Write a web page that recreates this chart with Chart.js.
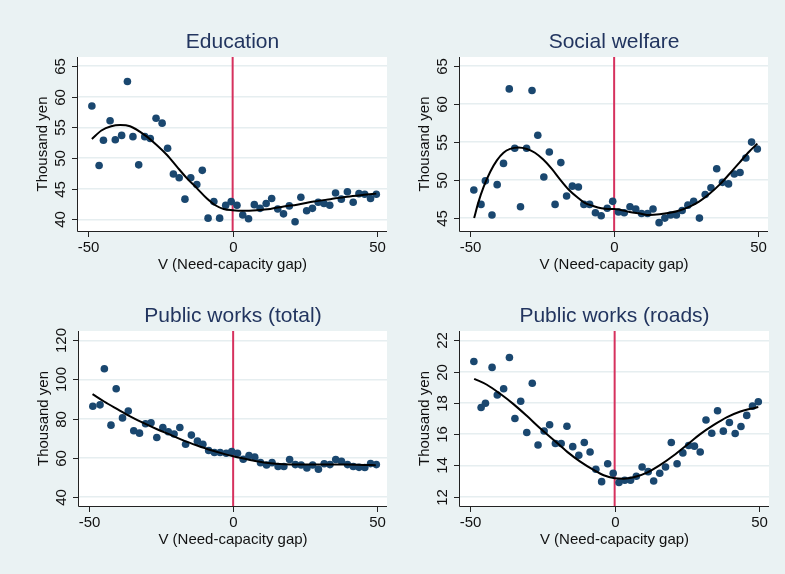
<!DOCTYPE html>
<html>
<head>
<meta charset="utf-8">
<script src="https://cdn.jsdelivr.net/npm/chart.js@4/dist/chart.umd.min.js"></script>
<style>
  html, body { margin: 0; padding: 0; background: #eaf2f3; }
  #wrap { position: relative; width: 785px; height: 574px; background: #eaf2f3; overflow: hidden; }
  #wrap canvas { position: absolute; }
</style>
</head>
<body>
<div id="wrap">
  <canvas id="edu"></canvas>
  <canvas id="welfare"></canvas>
  <canvas id="worksTotal"></canvas>
  <canvas id="worksRoads"></canvas>
</div>
<script>
// Bin means of the running variable (shared by all four outcomes)
const binX = [
  -48.7, -46.2, -44.7, -42.4, -40.6, -38.4, -36.4, -34.5, -32.5, -30.4,
  -28.5, -26.5, -24.4, -22.5, -20.5, -18.5, -16.5, -14.5, -12.4, -10.5,
  -8.5, -6.5, -4.5, -2.4, -0.5, 1.5, 3.5, 5.5, 7.5, 9.5,
  11.6, 13.5, 15.6, 17.6, 19.6, 21.6, 23.6, 25.6, 27.6, 29.6,
  31.6, 33.6, 35.6, 37.6, 39.7, 41.7, 43.7, 45.7, 47.7, 49.7
];

// Education spending per capita (thousand yen), bin means
const eduY = [
  58.5, 48.8, 52.9, 56.1, 53.0, 53.7, 62.5, 53.5, 48.9, 53.5,
  53.2, 56.5, 55.7, 51.6, 47.4, 46.8, 43.3, 46.8, 45.7, 48.0,
  40.2, 42.9, 40.2, 42.3, 42.9, 42.3, 40.7, 40.1, 42.4, 41.8,
  42.6, 43.4, 41.7, 40.9, 42.2, 39.6, 43.6, 41.4, 41.8, 42.8,
  42.6, 42.3, 44.3, 43.3, 44.5, 42.8, 44.2, 44.1, 43.4, 44.1
];
const eduFitX = [-48.7, -45.4, -42.0, -38.9, -35.5, -30.4, -26.2, -22.7, -19.3, -15.8, -12.4, -8.9, -6.0, -3.1, 0, 3.8, 8.4, 13.0, 17.7, 22.3, 28.1, 33.8, 39.6, 45.4, 49.7];
const eduFitY = [53.1, 54.5, 55.2, 55.4, 55.2, 53.75, 52.1, 50.5, 48.6, 46.7, 45.1, 43.4, 42.3, 41.7, 41.5, 41.4, 41.5, 41.7, 42.1, 42.4, 42.9, 43.3, 43.7, 44.0, 44.2];

// Social welfare spending per capita (thousand yen)
const welfareY = [
  48.7, 46.8, 49.9, 45.4, 49.4, 52.2, 62.0, 54.2, 46.5, 54.2,
  61.8, 55.9, 50.4, 53.7, 46.8, 52.3, 47.9, 49.2, 49.1, 46.8,
  46.8, 45.7, 45.3, 46.3, 47.2, 45.8, 45.7, 46.5, 46.2, 45.6,
  45.6, 46.2, 44.4, 45.0, 45.4, 45.4, 46.0, 46.7, 47.2, 45.0,
  48.1, 49.0, 51.5, 49.7, 49.5, 50.8, 51.0, 52.9, 55.0, 54.1
];
const welfareFitX = [-48.6, -47.1, -45.3, -43.0, -40.7, -38.4, -36.1, -33.2, -30.3, -27.5, -24.6, -21.7, -18.8, -15.9, -13.0, -10.2, -7.3, -4.4, -2.1, 0, 2.0, 5.4, 8.9, 12.3, 15.8, 19.3, 22.7, 26.2, 29.6, 33.1, 36.6, 40.0, 43.5, 47.0, 49.7];
const welfareFitY = [45.0, 47.1, 49.1, 51.1, 52.6, 53.6, 54.1, 54.3, 54.1, 53.6, 52.7, 51.5, 50.1, 48.8, 47.8, 47.0, 46.6, 46.3, 46.2, 46.2, 46.1, 45.8, 45.6, 45.4, 45.5, 45.7, 46.0, 46.5, 47.2, 48.2, 49.4, 50.8, 52.3, 53.8, 54.8];

// Public works, total (thousand yen)
const totalY = [
  86.3, 87.0, 105.5, 76.6, 95.2, 80.3, 83.8, 73.7, 72.5, 77.3,
  77.8, 70.3, 75.4, 73.2, 72.1, 75.4, 66.8, 71.5, 68.4, 66.8,
  63.6, 62.6, 62.6, 62.2, 63.1, 62.2, 59.1, 61.0, 60.2, 57.4,
  56.2, 57.4, 55.4, 55.4, 59.0, 56.4, 56.2, 54.7, 56.2, 54.0,
  56.8, 56.4, 59.0, 58.1, 56.4, 55.4, 55.0, 54.9, 56.9, 56.4
];
const totalFitX = [-48.8, -44.8, -40.2, -35.6, -31.0, -26.4, -21.7, -17.1, -12.5, -7.9, -3.2, 0, 3.7, 8.3, 12.9, 17.5, 22.2, 27.9, 33.7, 39.4, 45.2, 49.5];
const totalFitY = [92.5, 88.7, 84.8, 81.0, 77.6, 74.5, 71.6, 68.7, 66.2, 63.9, 61.9, 60.7, 59.5, 58.1, 57.1, 56.6, 56.4, 56.4, 56.4, 56.4, 56.2, 56.1];

// Public works, roads (thousand yen)
const roadsY = [
  20.65, 17.7, 17.98, 20.27, 18.5, 18.9, 20.9, 17.0, 18.1, 16.1,
  19.26, 15.3, 16.2, 16.6, 15.4, 15.4, 16.5, 15.2, 14.65, 15.46,
  14.86, 13.75, 12.96, 14.1, 13.5, 12.9, 13.05, 13.05, 13.3, 13.9,
  13.6, 13.0, 13.5, 13.9, 15.46, 14.1, 14.8, 15.27, 15.23, 14.86,
  16.9, 16.06, 17.5, 16.19, 16.74, 16.04, 16.49, 17.2, 17.79, 18.07
];
const roadsFitX = [-48.6, -44.2, -39.6, -35.0, -30.4, -25.8, -21.1, -16.5, -11.9, -7.3, -3.8, 0, 3.1, 6.6, 11.2, 15.8, 20.4, 25.0, 29.6, 34.3, 38.9, 43.5, 47.0, 49.7];
const roadsFitY = [19.54, 19.16, 18.58, 17.92, 17.17, 16.38, 15.63, 14.88, 14.24, 13.71, 13.37, 13.18, 13.15, 13.24, 13.54, 14.03, 14.63, 15.31, 16.0, 16.59, 17.09, 17.45, 17.62, 17.73];

// Axis ticks
const xTicks = [-50, 0, 50];
const eduTicks = [40, 45, 50, 55, 60, 65];
const welfareTicks = [45, 50, 55, 60, 65];
const totalTicks = [40, 60, 80, 100, 120];
const roadsTicks = [12, 14, 16, 18, 20, 22];

// Threshold of the need-capacity gap
const CUTOFF = 0;

const titles = ['Education', 'Social welfare', 'Public works (total)', 'Public works (roads)'];
const xTitle = 'V (Need-capacity gap)';
const yTitle = 'Thousand yen';

const NAVY = '#1a476f';
const TITLE_COLOR = '#22355f';
const CUT_COLOR = '#d6315e';
const GRID_COLOR = '#e6eef0';
const FONT = '"Liberation Sans", Arial, Helvetica, sans-serif';

// Plot-region frame: white background, cutoff line, axes, ticks and text
const panelDecor = {
  id: 'panelDecor',
  beforeDraw(chart) {
    const a = chart.chartArea, ctx = chart.ctx;
    ctx.save();
    ctx.fillStyle = '#ffffff';
    ctx.fillRect(a.left, a.top, a.right - a.left, a.bottom - a.top);
    ctx.restore();
  },
  beforeDatasetsDraw(chart) {
    const a = chart.chartArea, ctx = chart.ctx;
    const px = chart.scales.x.getPixelForValue(CUTOFF);
    ctx.save();
    ctx.strokeStyle = CUT_COLOR;
    ctx.lineWidth = 2;
    ctx.beginPath();
    ctx.moveTo(px, a.top);
    ctx.lineTo(px, a.bottom);
    ctx.stroke();
    ctx.restore();
  },
  afterDraw(chart, args, opts) {
    const a = chart.chartArea, ctx = chart.ctx;
    const xs = chart.scales.x, ys = chart.scales.y;
    ctx.save();
    // axis lines
    ctx.strokeStyle = '#222';
    ctx.lineWidth = 1;
    ctx.beginPath();
    ctx.moveTo(a.left - 0.5, a.top);
    ctx.lineTo(a.left - 0.5, a.bottom + 0.5);
    ctx.lineTo(a.right, a.bottom + 0.5);
    ctx.stroke();

    ctx.fillStyle = '#111';
    ctx.font = '15px ' + FONT;
    // x ticks
    ctx.textAlign = 'center';
    ctx.textBaseline = 'alphabetic';
    xTicks.forEach(v => {
      const px = Math.round(xs.getPixelForValue(v)) + 0.5;
      ctx.beginPath();
      ctx.moveTo(px, a.bottom);
      ctx.lineTo(px, a.bottom + 6);
      ctx.stroke();
      ctx.fillText(String(v), px, a.bottom + 21);
    });
    // y ticks (labels drawn vertically)
    opts.yTicks.forEach(v => {
      const py = Math.round(ys.getPixelForValue(v)) + 0.5;
      ctx.beginPath();
      ctx.moveTo(a.left, py);
      ctx.lineTo(a.left - 6, py);
      ctx.stroke();
      ctx.save();
      ctx.translate(a.left - 13, py);
      ctx.rotate(-Math.PI / 2);
      ctx.fillText(String(v), 0, 0);
      ctx.restore();
    });
    // axis titles
    ctx.fillText(xTitle, (a.left + a.right) / 2, a.bottom + 38);
    ctx.save();
    ctx.translate(a.left - 31, (a.top + a.bottom) / 2);
    ctx.rotate(-Math.PI / 2);
    ctx.fillText(yTitle, 0, 0);
    ctx.restore();
    // panel title
    ctx.fillStyle = TITLE_COLOR;
    ctx.font = '21px ' + FONT;
    ctx.fillText(opts.title, (a.left + a.right) / 2, a.top - 9);
    ctx.restore();
  }
};

function makePanel(id, box, pad, title, ys, fitX, fitY, yMin, yMax, yTicks) {
  const cv = document.getElementById(id);
  cv.width = box.w; cv.height = box.h;
  cv.style.left = box.x + 'px'; cv.style.top = box.y + 'px';
  cv.style.width = box.w + 'px'; cv.style.height = box.h + 'px';

  const pts = binX.map((x, i) => ({ x: x, y: ys[i] }));
  const fit = fitX.map((x, i) => ({ x: x, y: fitY[i] }));

  return new Chart(cv, {
    type: 'scatter',
    data: {
      datasets: [
        {
          type: 'line',
          data: fit,
          borderColor: '#000',
          borderWidth: 2,
          pointRadius: 0,
          fill: false,
          cubicInterpolationMode: 'monotone',
          order: 0
        },
        {
          type: 'scatter',
          data: pts,
          backgroundColor: NAVY,
          borderWidth: 0,
          pointRadius: 3.8,
          order: 1
        }
      ]
    },
    options: {
      responsive: false,
      animation: false,
      events: [],
      devicePixelRatio: 1,
      layout: { padding: pad },
      plugins: {
        legend: { display: false },
        tooltip: { enabled: false },
        title: { display: false },
        panelDecor: { title: title, yTicks: yTicks }
      },
      scales: {
        x: { type: 'linear', min: -53.5, max: 53.4, display: false },
        y: {
          type: 'linear', min: yMin, max: yMax,
          afterBuildTicks: s => { s.ticks = yTicks.map(v => ({ value: v })); },
          afterFit: s => { s.width = 0; },
          ticks: { display: false },
          border: { display: false },
          grid: { color: GRID_COLOR, lineWidth: 1.5, drawTicks: false }
        }
      }
    },
    plugins: [panelDecor]
  });
}

makePanel('edu', { x: 0, y: 0, w: 392, h: 287 }, { left: 78, right: 5, top: 57, bottom: 56 },
  titles[0], eduY, eduFitX, eduFitY, 38.1, 66.5, eduTicks);
makePanel('welfare', { x: 392, y: 0, w: 393, h: 287 }, { left: 68, right: 17, top: 57, bottom: 56 },
  titles[1], welfareY, welfareFitX, welfareFitY, 43.3, 66.2, welfareTicks);
makePanel('worksTotal', { x: 0, y: 287, w: 392, h: 287 }, { left: 79, right: 5, top: 44, bottom: 68 },
  titles[2], totalY, totalFitX, totalFitY, 35.2, 124.8, totalTicks);
makePanel('worksRoads', { x: 392, y: 287, w: 393, h: 287 }, { left: 68, right: 16, top: 44, bottom: 68 },
  titles[3], roadsY, roadsFitX, roadsFitY, 11.4, 22.6, roadsTicks);
</script>
</body>
</html>
